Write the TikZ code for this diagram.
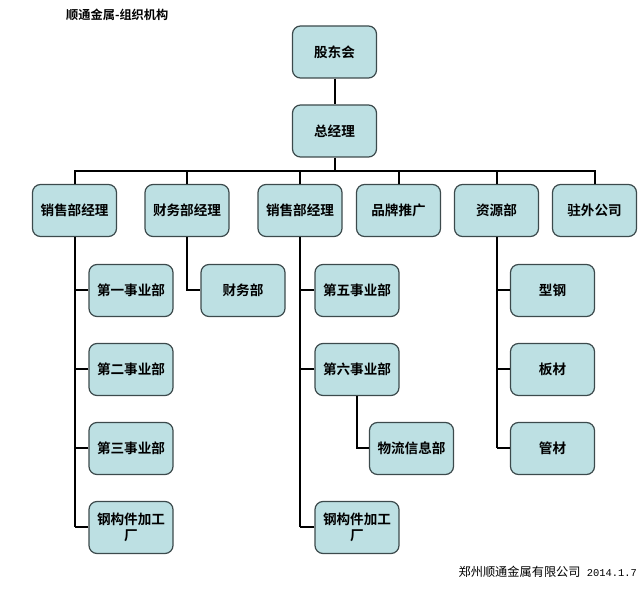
\documentclass[tikz,border=0pt]{standalone}
\usepackage{fontspec}
\newfontfamily\cjk{Noto Sans CJK SC}
\newfontfamily\cjkb{Noto Sans CJK SC Bold}
\newfontfamily\monof{Liberation Mono}
\definecolor{boxfill}{HTML}{BDE0E3}
\definecolor{boxdraw}{HTML}{3C4A4C}
\begin{document}
\begin{tikzpicture}[x=1pt,y=-1pt,
  orgbox/.style={draw=boxdraw,line width=1.2pt,fill=boxfill,rounded corners=8pt,
    minimum width=84pt,minimum height=52pt,inner sep=1pt,align=center,
    font=\cjkb\fontsize{13.6}{15.5}\selectfont},
  link/.style={line width=2pt,draw=black}]
\useasboundingbox (0,0) rectangle (643,593);
\node[font=\cjkb\fontsize{12.2}{14}\selectfont,anchor=west,inner sep=0pt] (title) at (66,15) {顺通金属-组织机构};
\node[anchor=east,inner sep=0pt] (foot) at (637,572) {\cjk\fontsize{12.2}{14}\selectfont 郑州顺通金属有限公司\monof\fontsize{10.4}{12}\selectfont{} 2014.1.7};
% top
\node[orgbox] (gd) at (334.5,52) {股东会};
\node[orgbox] (zj) at (334.5,131) {总经理};
% level 2
\node[orgbox] (l1) at (74.5,210.5) {销售部经理};
\node[orgbox] (l2) at (187,210.5) {财务部经理};
\node[orgbox] (l3) at (300,210.5) {销售部经理};
\node[orgbox] (l4) at (398.5,210.5) {品牌推广};
\node[orgbox] (l5) at (496.5,210.5) {资源部};
\node[orgbox] (l6) at (594.5,210.5) {驻外公司};
% left column
\node[orgbox] (a1) at (131,290.5) {第一事业部};
\node[orgbox] (a2) at (131,369.5) {第二事业部};
\node[orgbox] (a3) at (131,448.5) {第三事业部};
\node[orgbox] (a4) at (131,527.5) {钢构件加工\\厂};
% finance
\node[orgbox] (f1) at (243,290.5) {财务部};
% middle column
\node[orgbox] (m1) at (357,290.5) {第五事业部};
\node[orgbox] (m2) at (357,369.5) {第六事业部};
\node[orgbox] (m3) at (411.5,448.5) {物流信息部};
\node[orgbox] (m4) at (357,527.5) {钢构件加工\\厂};
% resources
\node[orgbox] (r1) at (552.5,290.5) {型钢};
\node[orgbox] (r2) at (552.5,369.5) {板材};
\node[orgbox] (r3) at (552.5,448.5) {管材};
% connectors
\coordinate (bus) at (334.5,171);
\draw[link] (gd) -- (zj);
\draw[link] (zj.south) -- (bus);
\draw[link] (l1.north) -- (l1.north |- bus) -- (l6.north |- bus) -- (l6.north);
\foreach \n in {l2,l3,l4,l5} \draw[link] (\n.north) -- (\n.north |- bus);
\draw[link] (l1.south) -- (l1.south |- a4.west);
\foreach \n in {a1,a2,a3,a4} \draw[link] (\n.west) -- (\n.west -| l1.south);
\draw[link] (l2.south) |- (f1.west);
\draw[link] (l3.south) -- (l3.south |- m4.west);
\foreach \n in {m1,m2,m4} \draw[link] (\n.west) -- (\n.west -| l3.south);
\draw[link] (m2.south) |- (m3.west);
\draw[link] (l5.south) -- (l5.south |- r3.west);
\foreach \n in {r1,r2,r3} \draw[link] (\n.west) -- (\n.west -| l5.south);
\end{tikzpicture}
\end{document}
